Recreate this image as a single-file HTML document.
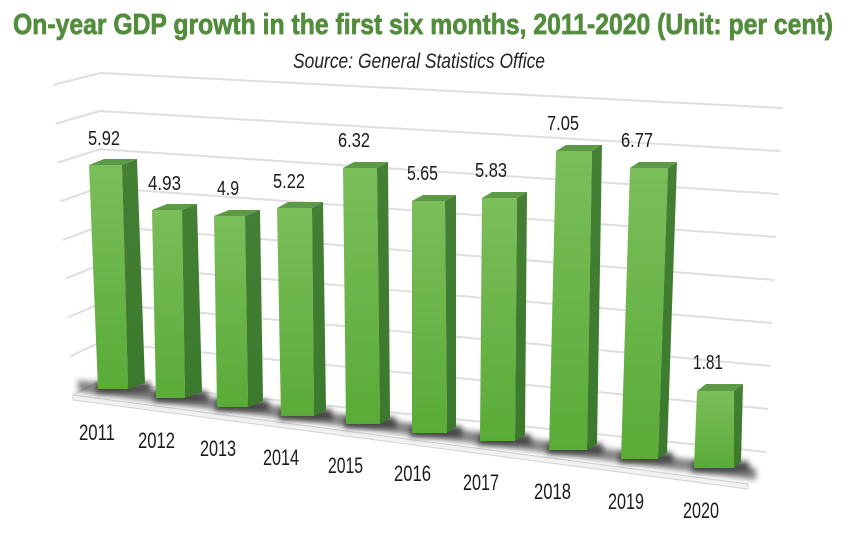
<!DOCTYPE html>
<html>
<head>
<meta charset="utf-8">
<style>
html,body{margin:0;padding:0;background:#fff;}
svg{display:block;}
.t{font-family:"Liberation Sans",sans-serif;}
</style>
</head>
<body>
<svg width="850" height="539" viewBox="0 0 850 539" xmlns="http://www.w3.org/2000/svg">
<defs>
  <linearGradient id="front" x1="0" y1="0" x2="0" y2="1">
    <stop offset="0" stop-color="#7bbe5a"/>
    <stop offset="1" stop-color="#5aab38"/>
  </linearGradient>
  <linearGradient id="side" x1="0" y1="0" x2="0" y2="1">
    <stop offset="0" stop-color="#447f34"/>
    <stop offset="1" stop-color="#3b7a2d"/>
  </linearGradient>
  <filter id="blur" x="-10%" y="-50%" width="120%" height="200%">
    <feGaussianBlur stdDeviation="3"/>
  </filter>
</defs>
<rect width="850" height="539" fill="#fff"/>

<text class="t" x="13" y="34" font-size="29" font-weight="bold" fill="#528c3d" stroke="#528c3d" stroke-width="0.7" textLength="820" lengthAdjust="spacingAndGlyphs">On-year GDP growth in the first six months, 2011-2020 (Unit: per cent)</text>
<text class="t" x="293" y="68" font-size="21" font-style="italic" fill="#222" textLength="252" lengthAdjust="spacingAndGlyphs">Source: General Statistics Office</text>

<g fill="none" stroke="#dedede" stroke-width="2" stroke-linejoin="round">
  <polyline points="53,85 100,73 782,108"/>
  <polyline points="55.5,123.75 100,111 780,151"/>
  <polyline points="58,162.5 100,149.2 778,194"/>
  <polyline points="60.5,201.25 100,187.5 776,237"/>
  <polyline points="63,240 100,226 774,280"/>
  <polyline points="65.5,278.75 100,264.6 772,323"/>
  <polyline points="68,317.5 100,303.4 770,366"/>
  <polyline points="70.5,356.25 100,342.3 768,409"/>
  <polyline points="73,395 100,381.4 766,452"/>
</g>

<polygon points="73,395 748,484 748,489 73,400" fill="#f2f2f2" stroke="#d2d2d2" stroke-width="1"/>

<polygon points="78,380 756,468 756,480 78,392" fill="#555" opacity="0.7" filter="url(#blur)"/>
<g fill="#333" opacity="0.8" filter="url(#blur)">
  <polygon points="96,382 150,382 152,393 96,393"/>
  <polygon points="154,391 207,391 209,402 154,402"/>
  <polygon points="215,400 268,400 270,411 215,411"/>
  <polygon points="279,409 331,409 333,420 279,420"/>
  <polygon points="344,417 395,417 397,428 344,428"/>
  <polygon points="410,426 461,426 463,437 410,437"/>
  <polygon points="478,434 530,434 532,445 478,445"/>
  <polygon points="547,443 602,443 604,454 547,454"/>
  <polygon points="619,452 672,452 674,463 619,463"/>
  <polygon points="692,461 748,461 750,472 692,472"/>
</g>

<g>
  <polygon points="89,165 122,165 128,389 98,389" fill="url(#front)"/>
  <polygon points="89,165 122,165 137,159 104,159" fill="#5c9a46"/>
  <polygon points="122,165 137,159 145,383 128,389" fill="url(#side)"/>
  <polygon points="152,210 182,210 185,398 156,398" fill="url(#front)"/>
  <polygon points="152,210 182,210 197,204 167,204" fill="#5c9a46"/>
  <polygon points="182,210 197,204 202,392 185,398" fill="url(#side)"/>
  <polygon points="214,216 245,216 248,407 217,407" fill="url(#front)"/>
  <polygon points="214,216 245,216 260,210 229,210" fill="#5c9a46"/>
  <polygon points="245,216 260,210 263,401 248,407" fill="url(#side)"/>
  <polygon points="277,208 312,208 314,416 281,416" fill="url(#front)"/>
  <polygon points="277,208 312,208 323,202 288,202" fill="#5c9a46"/>
  <polygon points="312,208 323,202 326,410 314,416" fill="url(#side)"/>
  <polygon points="343,168 377,168 380,424 346,424" fill="url(#front)"/>
  <polygon points="343,168 377,168 388,162 354,162" fill="#5c9a46"/>
  <polygon points="377,168 388,162 390,418 380,424" fill="url(#side)"/>
  <polygon points="412,201 445,201 447,433 412,433" fill="url(#front)"/>
  <polygon points="412,201 445,201 456,195 423,195" fill="#5c9a46"/>
  <polygon points="445,201 456,195 456,427 447,433" fill="url(#side)"/>
  <polygon points="482,198 517,198 515,441 480,441" fill="url(#front)"/>
  <polygon points="482,198 517,198 527,192 492,192" fill="#5c9a46"/>
  <polygon points="517,198 527,192 525,435 515,441" fill="url(#side)"/>
  <polygon points="556,151 592,151 587,450 549,450" fill="url(#front)"/>
  <polygon points="556,151 592,151 602,145 566,145" fill="#5c9a46"/>
  <polygon points="592,151 602,145 597,444 587,450" fill="url(#side)"/>
  <polygon points="630,168 668,168 658,459 621,459" fill="url(#front)"/>
  <polygon points="630,168 668,168 677,162 639,162" fill="#5c9a46"/>
  <polygon points="668,168 677,162 667,453 658,459" fill="url(#side)"/>
  <polygon points="697,391 734,391 734,468 694,468" fill="url(#front)"/>
  <polygon points="697,391 734,391 743,384 706,384" fill="#5c9a46"/>
  <polygon points="734,391 743,384 741,462 734,468" fill="url(#side)"/>
</g>

<g class="t" font-size="20" fill="#1a1a1a">
  <text x="88" y="145" textLength="32" lengthAdjust="spacingAndGlyphs">5.92</text>
  <text x="148" y="190" textLength="33" lengthAdjust="spacingAndGlyphs">4.93</text>
  <text x="217" y="195" textLength="22" lengthAdjust="spacingAndGlyphs">4.9</text>
  <text x="273" y="188" textLength="32" lengthAdjust="spacingAndGlyphs">5.22</text>
  <text x="338" y="147" textLength="32" lengthAdjust="spacingAndGlyphs">6.32</text>
  <text x="407" y="180" textLength="31" lengthAdjust="spacingAndGlyphs">5.65</text>
  <text x="475" y="177" textLength="32" lengthAdjust="spacingAndGlyphs">5.83</text>
  <text x="547" y="130" textLength="32" lengthAdjust="spacingAndGlyphs">7.05</text>
  <text x="621" y="147" textLength="32" lengthAdjust="spacingAndGlyphs">6.77</text>
  <text x="693" y="369" textLength="30" lengthAdjust="spacingAndGlyphs">1.81</text>
</g>

<g class="t" font-size="22" fill="#1a1a1a">
  <text x="79" y="440" textLength="36" lengthAdjust="spacingAndGlyphs">2011</text>
  <text x="138" y="448" textLength="37" lengthAdjust="spacingAndGlyphs">2012</text>
  <text x="200" y="456" textLength="36" lengthAdjust="spacingAndGlyphs">2013</text>
  <text x="263" y="465" textLength="36" lengthAdjust="spacingAndGlyphs">2014</text>
  <text x="328" y="473" textLength="35" lengthAdjust="spacingAndGlyphs">2015</text>
  <text x="394" y="481" textLength="37" lengthAdjust="spacingAndGlyphs">2016</text>
  <text x="463" y="490" textLength="36" lengthAdjust="spacingAndGlyphs">2017</text>
  <text x="534" y="499" textLength="37" lengthAdjust="spacingAndGlyphs">2018</text>
  <text x="608" y="509" textLength="36" lengthAdjust="spacingAndGlyphs">2019</text>
  <text x="683" y="518" textLength="36" lengthAdjust="spacingAndGlyphs">2020</text>
</g>
</svg>
</body>
</html>
